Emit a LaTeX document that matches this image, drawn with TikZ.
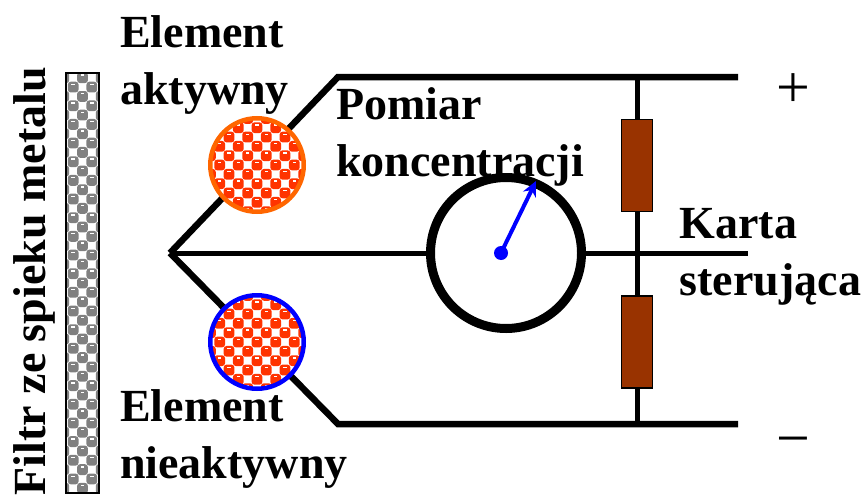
\documentclass[tikz,border=0pt]{standalone}
\usepackage{fontspec}
\setmainfont{Liberation Serif}
\usetikzlibrary{arrows.meta}

\newcommand{\checker}[1]{%
	\fill[white] (path picture bounding box.south west) rectangle (path picture bounding box.north east);
	\foreach \i in {-6,...,6}
	\foreach \j in {-26,...,26}{
		\pgfmathparse{int(mod(\i+\j+60,2))}
		\ifnum\pgfmathresult=0
			\fill[#1,rounded corners=3pt] ({\i*9.33-5.4},{\j*9.33-5.4}) rectangle ({\i*9.33+5.4},{\j*9.33+5.4});
			\fill[white] ({\i*9.33-1.8},{\j*9.33-3.4}) rectangle ({\i*9.33+1.8},{\j*9.33-2});
		\fi
	}%
}

\tikzset{
	label/.style={font=\fontsize{46}{56.5}\selectfont\bfseries, inner sep=0pt, anchor=base west, align=left},
	sign/.style={font=\fontsize{60}{60}\selectfont, inner sep=0pt},
	wire/.style={line width=6.5pt, line join=miter},
	thinwire/.style={line width=5pt},
	resistor/.style={draw, line width=1.5pt, fill=brownres, minimum width=31pt, minimum height=92pt, inner sep=0pt},
	element/.style={circle, draw=#1, line width=4.5pt, minimum size=93.5pt, inner sep=0pt, path picture={\checker{redel}}},
	filterbar/.style={draw, line width=1.5pt, minimum width=33pt, minimum height=420pt, inner sep=0pt, path picture={\checker{greyel}}}
}
\definecolor{brownres}{HTML}{993300}
\definecolor{redel}{HTML}{FF3300}
\definecolor{greyel}{HTML}{808080}
\definecolor{orangeel}{HTML}{FF6600}
\definecolor{blueel}{HTML}{0000FF}

\begin{document}
\begin{tikzpicture}[x=1pt,y=-1pt]
	\useasboundingbox (0,0) rectangle (866,495);

	\coordinate (junction) at (170,253);
	\coordinate (topcorner) at (338,77);
	\coordinate (botcorner) at (338,424);
	\coordinate (topend) at (738,77);
	\coordinate (botend) at (738,424);
	\coordinate (topjoin) at (637,77);
	\coordinate (botjoin) at (637,424);
	\coordinate (cardend) at (748,253);
	\coordinate (needletip) at (536,181);

	\draw[wire] (junction) -- (topcorner) -- (topend);
	\draw[wire] (junction) -- (botcorner) -- (botend);
	\draw[thinwire] (topjoin) -- (botjoin);

	\node[filterbar] (filter) at (82.5,283) {};
	\node[element=orangeel] (active) at (257,165) {};
	\node[element=blueel] (inactive) at (257,342) {};
	\node[resistor] (restop) at (637,165.5) {};
	\node[resistor] (resbot) at (637,342) {};

	\node[circle, draw, line width=9pt, minimum size=151pt, inner sep=0pt] (meter) at (506,253) {};
	\draw[thinwire] (junction) -- (meter.west);
	\draw[thinwire] (meter.east) -- (cardend);

	\node[circle, fill=blueel, minimum size=14pt, inner sep=0pt] (hub) at (501,253) {};
	\draw[blueel, line width=4pt, -{Stealth[length=15pt,width=14pt]}] (hub.center) -- (needletip);

	\node[label] (labactive) at (120,104) {Element\\aktywny};
	\node[label] (labinactive) at (120,478) {Element\\nieaktywny};
	\node[label] (labmeter) at (336,176) {Pomiar\\koncentracji};
	\node[label] (labcard) at (679.5,295) {Karta\\sterująca};
	\node[label, rotate=90] (labfilter) at (45,495.5) {Filtr ze spieku metalu};
	\node[sign] (plus) at (793,91) {+};
	\node[sign] (minus) at (793,448) {−};
\end{tikzpicture}
\end{document}
